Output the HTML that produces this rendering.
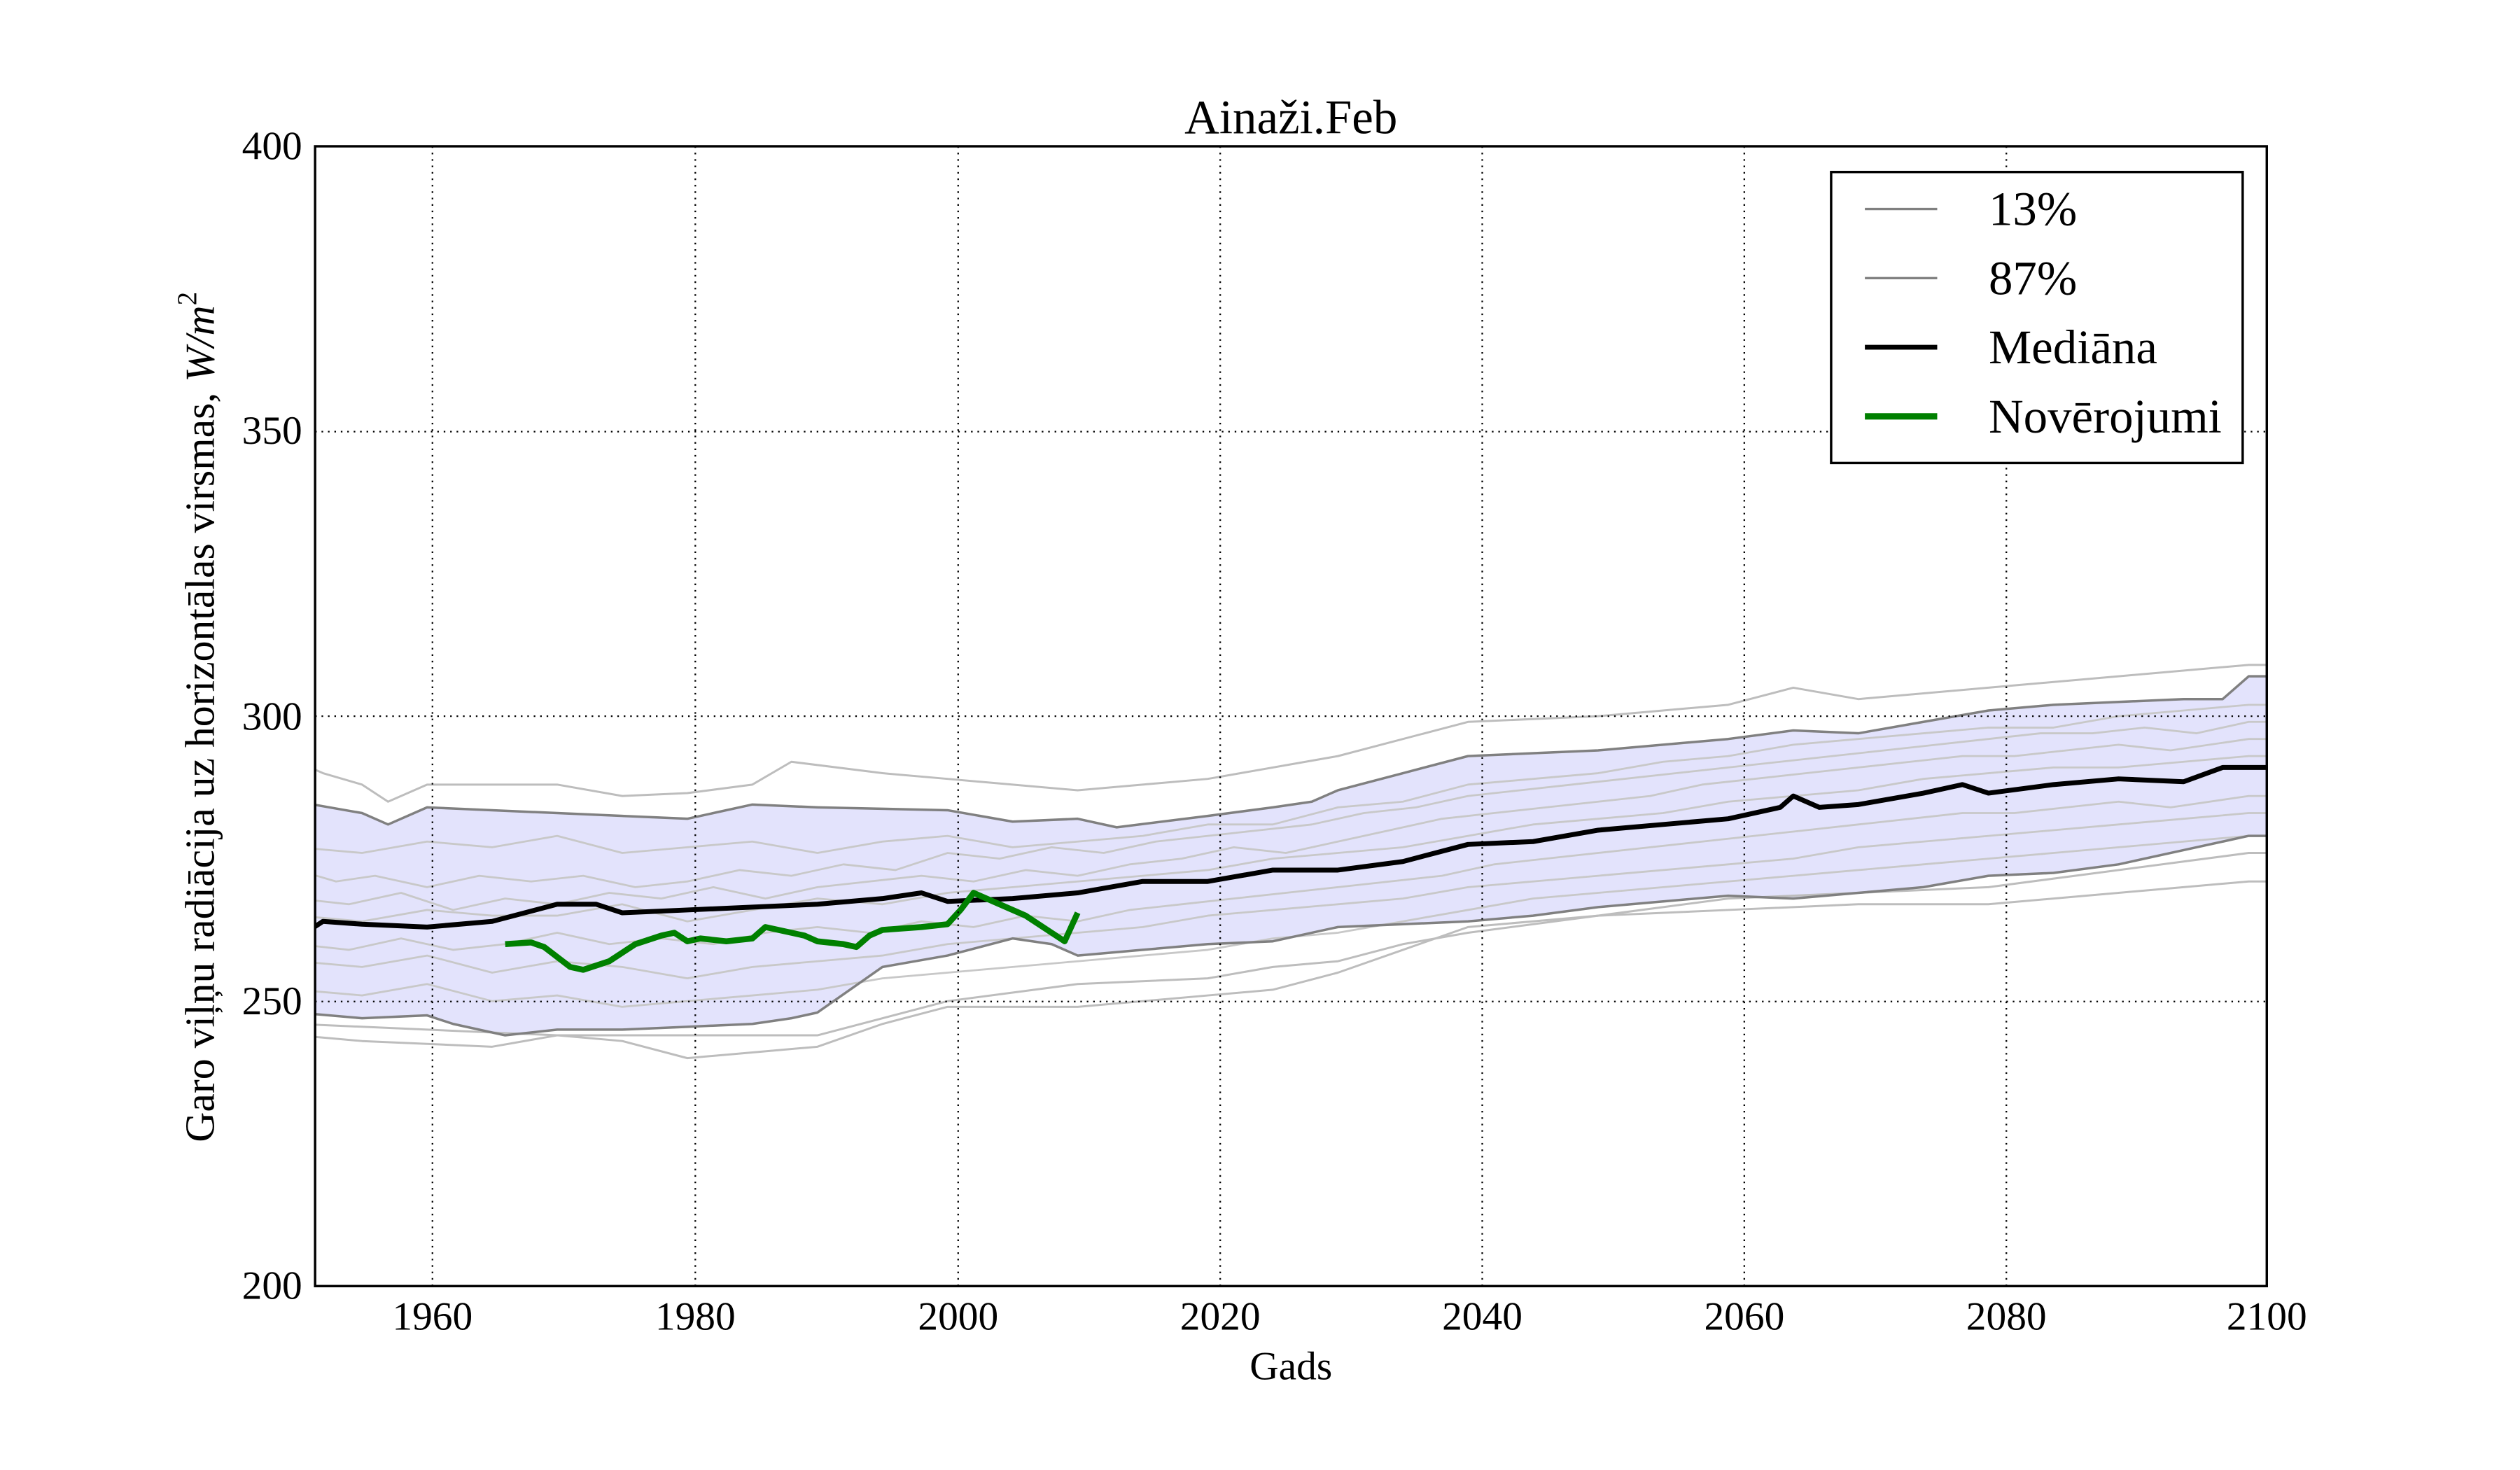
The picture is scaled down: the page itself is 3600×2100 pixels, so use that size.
<!DOCTYPE html>
<html><head><meta charset="utf-8"><style>html,body{margin:0;padding:0;background:#fff}svg{display:block}</style></head>
<body>
<svg width="3600" height="2100" viewBox="0 0 1567.5 914.4" preserveAspectRatio="none" xmlns="http://www.w3.org/2000/svg" font-family="Liberation Serif, serif">
<rect width="1568" height="915" fill="#fff"/>
<clipPath id="c"><rect x="196" y="91" width="1214" height="709"/></clipPath>
<g clip-path="url(#c)">
<g transform="matrix(8.0933 0 0 -3.545 -15597.2 1509)" fill="none" stroke-linejoin="round">
<polygon fill="#e3e3fc" stroke="none" points="1950,285 1955,283 1957,281 1960,284 1970,283 1980,282 1985,284.5 1990,284 2000,283.5 2005,281.5 2010,282 2013,280.5 2020,282.5 2025,284 2028,285 2030,287 2035,290 2040,293 2050,294 2060,296 2065,297.5 2070,297 2075,299 2080,301 2085,302 2090,302.5 2095,303 2098,303 2100,307 2102,307 2102,279 2100,279 2095,276.5 2090,274 2085,272.5 2080,272 2075,270 2070,269 2065,268 2060,268.5 2055,267.5 2050,266.5 2045,265 2040,264 2035,263.5 2030,263 2025,260.5 2020,260 2015,259 2010,258 2008,260 2005,261 2000,258 1995,256 1990,248 1988,247 1985,246 1980,245.5 1975,245 1970,245 1966,244 1962,246 1960,247.5 1955,247 1950,248 1948,248 1948,285"/>
<g stroke="#c8c8c8" stroke-width="2.8">
<polyline vector-effect="non-scaling-stroke" points="1948,273 1950,273 1953,271 1956,272 1960,270 1964,272 1968,271 1972,272 1976,270 1980,271 1984,273 1988,272 1992,274 1996,273 2000,276 2004,275 2008,277 2012,276 2016,278 2020,279 2024,280 2028,281 2032,283 2036,284 2040,286 2044,287 2048,288 2052,289 2056,290 2060,291 2064,292 2068,293 2072,294 2076,295 2080,296 2084,297 2088,297 2092,298 2096,297 2100,299 2102,299"/>
<polyline vector-effect="non-scaling-stroke" points="1948,277 1950,277 1955,276 1960,278 1965,277 1970,279 1975,276 1980,277 1985,278 1990,276 1995,278 2000,279 2005,277 2010,278 2015,279 2020,281 2025,281 2030,284 2035,285 2040,288 2045,289 2050,290 2055,292 2060,293 2065,295 2070,296 2075,297 2080,298 2085,298 2090,300 2095,301 2100,302 2102,302"/>
<polyline vector-effect="non-scaling-stroke" points="1948,268 1950,268 1954,267 1958,269 1962,266 1966,268 1970,267 1974,269 1978,268 1982,270 1986,268 1990,270 1994,271 1998,272 2002,271 2006,273 2010,272 2014,274 2018,275 2022,277 2026,276 2030,278 2034,280 2038,282 2042,283 2046,284 2050,285 2054,286 2058,288 2062,289 2066,290 2070,291 2074,292 2078,293 2082,293 2086,294 2090,295 2094,294 2100,296 2102,296"/>
<polyline vector-effect="non-scaling-stroke" points="1948,260 1950,260 1954,259 1958,261 1962,259 1966,260 1970,262 1974,260 1978,261 1982,260 1986,262 1990,263 1994,262 1998,264 2002,263 2006,265 2010,264 2014,266 2018,267 2022,268 2026,269 2030,270 2034,271 2038,272 2042,274 2046,275 2050,276 2054,277 2058,278 2062,279 2066,280 2070,281 2074,282 2078,283 2082,283 2086,284 2090,285 2094,284 2100,286 2102,286"/>
<polyline vector-effect="non-scaling-stroke" points="1948,257 1950,257 1955,256 1960,258 1965,255 1970,257 1975,256 1980,254 1985,256 1990,257 1995,258 2000,260 2005,261 2010,262 2015,263 2020,265 2025,266 2030,267 2035,268 2040,270 2045,271 2050,272 2055,273 2060,274 2065,275 2070,277 2075,278 2080,279 2085,280 2090,281 2095,282 2100,283 2102,283"/>
<polyline vector-effect="non-scaling-stroke" points="1948,252 1950,252 1955,251 1960,253 1965,250 1970,251 1975,249 1980,250 1985,251 1990,252 1995,254 2000,255 2005,256 2010,257 2015,258 2020,259 2025,261 2030,262 2035,264 2040,266 2045,268 2050,269 2055,270 2060,271 2065,272 2070,273 2075,274 2080,275 2085,276 2090,277 2095,278 2100,279 2102,279"/>
<polyline vector-effect="non-scaling-stroke" points="1948,265 1950,265 1955,264 1960,266 1965,265 1970,265 1975,267 1980,264 1985,266 1990,268 1995,267 2000,269 2005,270 2010,271 2015,272 2020,273 2025,275 2030,276 2035,277 2040,279 2045,281 2050,282 2055,283 2060,285 2065,286 2070,287 2075,289 2080,290 2085,291 2090,291 2095,292 2100,293 2102,293"/>
</g>
<g stroke="#bdbdbd" stroke-width="3">
<polyline vector-effect="non-scaling-stroke" points="1948,292 1950,292 1952,290 1955,288 1957,285 1960,288 1970,288 1975,286 1980,286.5 1985,288 1988,292 1995,290 2000,289 2010,287 2020,289 2030,293 2040,299 2050,300 2060,302 2065,305 2070,303 2080,305 2090,307 2100,309 2102,309"/>
<polyline vector-effect="non-scaling-stroke" points="1948,244 1950,244 1955,243 1965,242 1970,244 1975,243 1980,240 1985,241 1990,242 1995,246 2000,249 2010,249 2020,251 2025,252 2030,255 2035,259 2040,263 2050,265 2060,266 2070,267 2080,267 2090,269 2100,271 2102,271"/>
<polyline vector-effect="non-scaling-stroke" points="1948,246 1950,246 1970,244 1990,244 2000,250 2010,253 2020,254 2025,256 2030,257 2035,260 2040,262 2060,268 2080,270 2100,276 2102,276"/>
</g>
<g stroke="#808080" stroke-width="3.5">
<polyline vector-effect="non-scaling-stroke" points="1948,285 1950,285 1955,283 1957,281 1960,284 1970,283 1980,282 1985,284.5 1990,284 2000,283.5 2005,281.5 2010,282 2013,280.5 2020,282.5 2025,284 2028,285 2030,287 2035,290 2040,293 2050,294 2060,296 2065,297.5 2070,297 2075,299 2080,301 2085,302 2090,302.5 2095,303 2098,303 2100,307 2102,307"/>
<polyline vector-effect="non-scaling-stroke" points="1948,248 1950,248 1955,247 1960,247.5 1962,246 1966,244 1970,245 1975,245 1980,245.5 1985,246 1988,247 1990,248 1995,256 2000,258 2005,261 2008,260 2010,258 2015,259 2020,260 2025,260.5 2030,263 2035,263.5 2040,264 2045,265 2050,266.5 2055,267.5 2060,268.5 2065,268 2070,269 2075,270 2080,272 2085,272.5 2090,274 2095,276.5 2100,279 2102,279"/>
</g>
<polyline stroke="#000" stroke-width="7" vector-effect="non-scaling-stroke" points="1948,263 1950,263 1951,262.5 1952,264 1955,263.5 1960,263 1965,264 1970,267 1973,267 1975,265.5 1980,266 1985,266.5 1990,267 1995,268 1998,269 2000,267.5 2005,268 2010,269 2015,271 2020,271 2025,273 2030,273 2035,274.5 2040,277.5 2045,278 2050,280 2055,281 2060,282 2064,284 2065,286 2067,284 2070,284.5 2075,286.5 2078,288 2080,286.5 2085,288 2090,289 2095,288.5 2098,291 2100,291 2102,291"/>
<polyline stroke="#008000" stroke-width="8.5" vector-effect="non-scaling-stroke" points="1966,260 1968,260.3 1969,259.5 1971,256 1972,255.5 1974,257 1976,260 1978,261.5 1979,262 1980,260.5 1981,261 1983,260.5 1985,261 1986,263 1988,262 1989,261.5 1990,260.5 1992,260 1993,259.5 1994,261.5 1995,262.5 1998,263 2000,263.5 2001,266 2002,269 2004,267 2006,265 2008,262 2009,260.5 2010,265.5"/>
</g>
</g>
<g stroke="#000" stroke-width="1" stroke-dasharray="1,3" fill="none">
<line x1="269" y1="91" x2="269" y2="800"/><line x1="432.5" y1="91" x2="432.5" y2="800"/>
<line x1="596" y1="91" x2="596" y2="800"/><line x1="759" y1="91" x2="759" y2="800"/>
<line x1="922" y1="91" x2="922" y2="800"/><line x1="1085" y1="91" x2="1085" y2="800"/>
<line x1="1248" y1="91" x2="1248" y2="800"/>
<line x1="196" y1="268.5" x2="1410" y2="268.5"/><line x1="196" y1="445.5" x2="1410" y2="445.5"/>
<line x1="196" y1="623" x2="1410" y2="623"/>
</g>
<rect x="196" y="91" width="1214" height="709" fill="none" stroke="#000" stroke-width="1.5"/>
<g font-size="25" text-anchor="middle" fill="#000">
<text x="269" y="827">1960</text><text x="432.5" y="827">1980</text><text x="596" y="827">2000</text>
<text x="759" y="827">2020</text><text x="922" y="827">2040</text><text x="1085" y="827">2060</text>
<text x="1248" y="827">2080</text><text x="1410" y="827">2100</text>
</g>
<g font-size="25" text-anchor="end">
<text x="188" y="808">200</text><text x="188" y="631">250</text><text x="188" y="454">300</text>
<text x="188" y="276">350</text><text x="188" y="99">400</text>
</g>
<text x="803" y="858" font-size="25" text-anchor="middle">Gads</text>
<text x="803" y="83" font-size="30" text-anchor="middle">Ainaži.Feb</text>
<text transform="translate(133,446) rotate(-90)" font-size="26" text-anchor="middle">Garo viļņu radiācija uz horizontālas virsmas, <tspan font-style="italic">W/m</tspan><tspan font-size="17" dy="-11">2</tspan></text>
<rect x="1139" y="107" width="256" height="181" fill="#fff" stroke="#000" stroke-width="1.5"/>
<line x1="1160" y1="130" x2="1205" y2="130" stroke="#808080" stroke-width="1.5"/>
<line x1="1160" y1="173" x2="1205" y2="173" stroke="#808080" stroke-width="1.5"/>
<line x1="1160" y1="216" x2="1205" y2="216" stroke="#000" stroke-width="3"/>
<line x1="1160" y1="259" x2="1205" y2="259" stroke="#008000" stroke-width="4"/>
<g font-size="30">
<text x="1237" y="140">13%</text><text x="1237" y="183">87%</text>
<text x="1237" y="226">Mediāna</text><text x="1237" y="269">Novērojumi</text>
</g>
</svg>
</body></html>
